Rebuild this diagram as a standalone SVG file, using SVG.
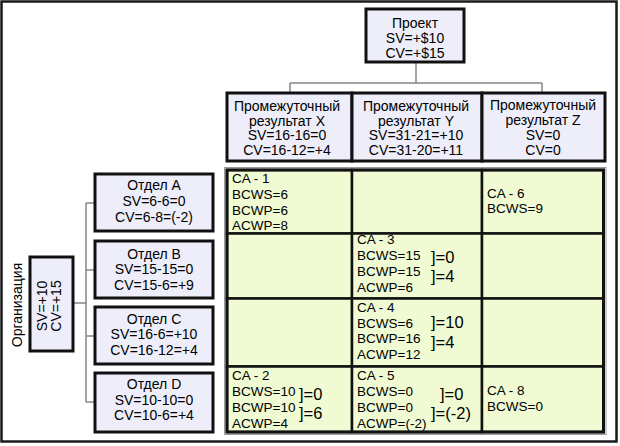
<svg xmlns="http://www.w3.org/2000/svg" width="620" height="446" viewBox="0 0 620 446">
<style>
  .frame{fill:#ffffff;stroke:#1a1a1a;stroke-width:2.5}
  .box{fill:#eeeefa;stroke:#111;stroke-width:3}
  .cell{fill:#f0fad3;stroke:#111;stroke-width:2.5}
  .conn{fill:none;stroke:#858585;stroke-width:1.5}
  text{font-family:"Liberation Sans",Arial,sans-serif;fill:#000}
  .t{font-size:14px;text-anchor:middle}
  .ca{font-size:13.5px}
  .br{font-size:16.5px}
</style>
<rect class="frame" x="1.5" y="1.5" width="615" height="440"/>

<g id="connectors">
  <path class="conn" d="M416 62 V83 M290 83 H542 M290 83 V93 M542 83 V93"/>
  <path class="conn" d="M73 303 H86 M86 203 V402 M86 203 H95 M86 270 H95 M86 336 H95 M86 402 H95"/>
</g>

<g id="project">
  <rect class="box" x="366" y="9" width="98" height="53"/>
  <text class="t" x="415" y="28">Проект</text>
  <text class="t" x="415" y="43">SV=+$10</text>
  <text class="t" x="415" y="57.5">CV=+$15</text>
</g>

<g id="result-x">
  <rect class="box" x="227" y="93" width="125" height="68"/>
  <text class="t" x="287" y="111">Промежуточный</text>
  <text class="t" x="287" y="125.7">результат X</text>
  <text class="t" x="287" y="140.3">SV=16-16=0</text>
  <text class="t" x="287" y="155">CV=16-12=+4</text>
</g>
<g id="result-y">
  <rect class="box" x="352" y="93" width="130" height="68"/>
  <text class="t" x="416" y="111">Промежуточный</text>
  <text class="t" x="416" y="125.7">результат Y</text>
  <text class="t" x="416" y="140.3">SV=31-21=+10</text>
  <text class="t" x="416" y="155">CV=31-20=+11</text>
</g>
<g id="result-z">
  <rect class="box" x="482" y="93" width="123" height="68"/>
  <text class="t" x="543" y="110">Промежуточный</text>
  <text class="t" x="543" y="125">результат Z</text>
  <text class="t" x="543" y="140">SV=0</text>
  <text class="t" x="543" y="155">CV=0</text>
</g>

<g id="organization">
  <rect class="box" x="30" y="257" width="43" height="94"/>
  <text class="t" transform="translate(47 306) rotate(-90)">SV=+10</text>
  <text class="t" transform="translate(61 306) rotate(-90)">CV=+15</text>
  <text class="t" transform="translate(22 305) rotate(-90)">Организация</text>
</g>

<g id="dept-a">
  <rect class="box" x="95" y="174" width="118" height="57"/>
  <text class="t" x="154" y="190">Отдел A</text>
  <text class="t" x="154" y="206">SV=6-6=0</text>
  <text class="t" x="154" y="221.5">CV=6-8=(-2)</text>
</g>
<g id="dept-b">
  <rect class="box" x="95" y="241" width="118" height="57"/>
  <text class="t" x="154" y="258.5">Отдел B</text>
  <text class="t" x="154" y="274">SV=15-15=0</text>
  <text class="t" x="154" y="289.5">CV=15-6=+9</text>
</g>
<g id="dept-c">
  <rect class="box" x="95" y="307" width="118" height="57"/>
  <text class="t" x="154" y="324">Отдел C</text>
  <text class="t" x="154" y="339.3">SV=16-6=+10</text>
  <text class="t" x="154" y="354.5">CV=16-12=+4</text>
</g>
<g id="dept-d">
  <rect class="box" x="95" y="373" width="118" height="59"/>
  <text class="t" x="154" y="389.3">Отдел D</text>
  <text class="t" x="154" y="404.5">SV=10-10=0</text>
  <text class="t" x="154" y="420">CV=10-6=+4</text>
</g>

<g id="grid">
  <rect x="224.5" y="167.5" width="381.5" height="267" fill="none" stroke="#9a9a9a" stroke-width="1"/>
  <rect class="cell" x="227" y="170" width="125" height="63.5"/>
  <rect class="cell" x="352" y="170" width="130" height="63.5"/>
  <rect class="cell" x="482" y="170" width="121.5" height="63.5"/>
  <rect class="cell" x="227" y="233.5" width="125" height="65"/>
  <rect class="cell" x="352" y="233.5" width="130" height="65"/>
  <rect class="cell" x="482" y="233.5" width="121.5" height="65"/>
  <rect class="cell" x="227" y="298.5" width="125" height="68"/>
  <rect class="cell" x="352" y="298.5" width="130" height="68"/>
  <rect class="cell" x="482" y="298.5" width="121.5" height="68"/>
  <rect class="cell" x="227" y="366.5" width="125" height="65.5"/>
  <rect class="cell" x="352" y="366.5" width="130" height="65.5"/>
  <rect class="cell" x="482" y="366.5" width="121.5" height="65.5"/>
  <rect x="227" y="170" width="376.5" height="262" fill="none" stroke="#111" stroke-width="3"/>
</g>

<g id="ca-1">
  <text class="ca" x="232" y="183.3">CA - 1</text>
  <text class="ca" x="232" y="199">BCWS=6</text>
  <text class="ca" x="232" y="214.5">BCWP=6</text>
  <text class="ca" x="232" y="230">ACWP=8</text>
</g>
<g id="ca-6">
  <text class="ca" x="487" y="197.7">CA - 6</text>
  <text class="ca" x="487" y="213.3">BCWS=9</text>
</g>
<g id="ca-3">
  <text class="ca" x="357" y="244.3">CA - 3</text>
  <text class="ca" x="357" y="260">BCWS=15</text>
  <text class="ca" x="357" y="276">BCWP=15</text>
  <text class="ca" x="357" y="292">ACWP=6</text>
  <text class="br" x="431" y="263">]=0</text>
  <text class="br" x="431" y="282">]=4</text>
</g>
<g id="ca-4">
  <text class="ca" x="357" y="311.7">CA - 4</text>
  <text class="ca" x="357" y="327.5">BCWS=6</text>
  <text class="ca" x="357" y="343">BCWP=16</text>
  <text class="ca" x="357" y="359">ACWP=12</text>
  <text class="br" x="431" y="328">]=10</text>
  <text class="br" x="431" y="348">]=4</text>
</g>
<g id="ca-2">
  <text class="ca" x="232" y="380">CA - 2</text>
  <text class="ca" x="232" y="396">BCWS=10</text>
  <text class="ca" x="232" y="411.7">BCWP=10</text>
  <text class="ca" x="232" y="427.5">ACWP=4</text>
  <text class="br" x="299" y="400">]=0</text>
  <text class="br" x="299" y="419">]=6</text>
</g>
<g id="ca-5">
  <text class="ca" x="357" y="380">CA - 5</text>
  <text class="ca" x="357" y="396">BCWS=0</text>
  <text class="ca" x="357" y="411.7">BCWP=0</text>
  <text class="ca" x="357" y="427.5">ACWP=(-2)</text>
  <text class="br" x="440" y="400">]=0</text>
  <text class="br" x="431" y="419">]=(-2)</text>
</g>
<g id="ca-8">
  <text class="ca" x="487" y="395">CA - 8</text>
  <text class="ca" x="487" y="410.5">BCWS=0</text>
</g>
</svg>
